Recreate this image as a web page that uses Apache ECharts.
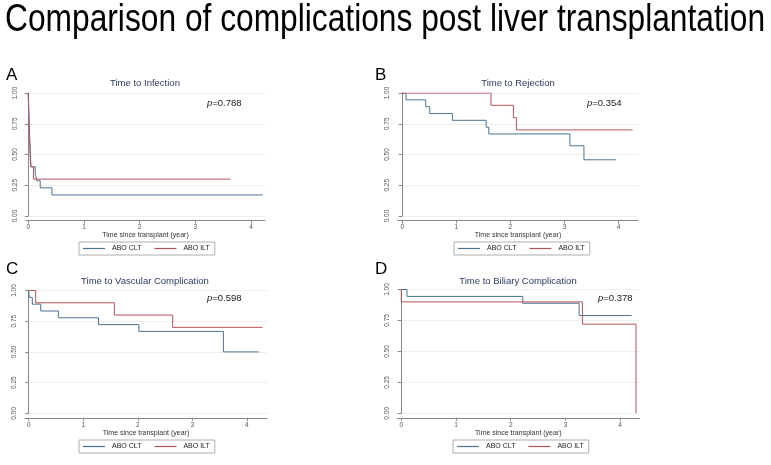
<!DOCTYPE html>
<html><head><meta charset="utf-8">
<script src="https://cdn.jsdelivr.net/npm/echarts@6/dist/echarts.min.js"></script>
<style>html,body{margin:0;padding:0;background:#fff}#c{width:771px;height:465px}</style>
</head><body><div id="c"></div>
<script>
const mainTitle = 'Comparison of complications post liver transplantation';
const panelLetters = ['A', 'B', 'C', 'D'];
const panelTitles = ['Time to Infection', 'Time to Rejection', 'Time to Vascular Complication', 'Time to Biliary Complication'];
const pValues = ['0.788', '0.354', '0.598', '0.378'];
const seriesNames = ['ABO CLT', 'ABO ILT'];
const xAxisTitle = 'Time since transplant (year)';
const xTickValues = [0, 1, 2, 3, 4];
const yTickValues = [0, 0.25, 0.5, 0.75, 1];

// A: infection
const infectionCltTime = [0, 0.004, 0.008, 0.012, 0.016, 0.02, 0.025, 0.03, 0.036, 0.042, 0.05, 0.126, 0.155, 0.215, 0.425, 4.21];
const infectionCltSurv = [1.0, 0.94, 0.88, 0.82, 0.76, 0.71, 0.65, 0.59, 0.53, 0.47, 0.40, 0.343, 0.286, 0.229, 0.171, 0.171];
const infectionIltTime = [0, 0.006, 0.012, 0.018, 0.026, 0.034, 0.044, 0.096, 3.63];
const infectionIltSurv = [1.0, 0.9, 0.8, 0.7, 0.6, 0.5, 0.4, 0.3, 0.3];
// B: rejection
const rejectionCltTime = [0, 0.068, 0.433, 0.507, 0.926, 1.55, 1.60, 3.10, 3.36, 3.95];
const rejectionCltSurv = [1.0, 0.944, 0.889, 0.833, 0.778, 0.722, 0.667, 0.571, 0.457, 0.457];
const rejectionIltTime = [0, 1.64, 2.055, 2.11, 4.26];
const rejectionIltSurv = [1.0, 0.9, 0.8, 0.7, 0.7];
// C: vascular
const vascularCltTime = [0, 0.012, 0.066, 0.22, 0.544, 1.28, 2.02, 3.57, 4.22];
const vascularCltSurv = [1.0, 0.944, 0.889, 0.833, 0.778, 0.722, 0.667, 0.5, 0.5];
const vascularIltTime = [0, 0.128, 1.57, 2.64, 4.29];
const vascularIltSurv = [1.0, 0.9, 0.8, 0.7, 0.7];
// D: biliary
const biliaryCltTime = [0, 0.104, 2.22, 3.25, 4.21];
const biliaryCltSurv = [1.0, 0.944, 0.889, 0.790, 0.790];
const biliaryIltTime = [0, 0, 3.31, 4.29];
const biliaryIltSurv = [1.0, 0.9, 0.72, 0.0];

const panelData = [
  [[infectionCltTime, infectionCltSurv], [infectionIltTime, infectionIltSurv]],
  [[rejectionCltTime, rejectionCltSurv], [rejectionIltTime, rejectionIltSurv]],
  [[vascularCltTime, vascularCltSurv], [vascularIltTime, vascularIltSurv]],
  [[biliaryCltTime, biliaryCltSurv], [biliaryIltTime, biliaryIltSurv]]
];

const layouts = [
  {grid: {left: 26, top: 93, width: 239, height: 123}, xMin: -0.04, xMax: 4.25, letter: [6, 75], title: [145, 83], p: [207, 103], legend: [79, 242]},
  {grid: {left: 398, top: 93, width: 240, height: 123}, xMin: -0.08, xMax: 4.36, letter: [375, 75], title: [518, 83], p: [587, 103], legend: [454, 242]},
  {grid: {left: 25, top: 290.5, width: 242, height: 122.8}, xMin: -0.068, xMax: 4.37, letter: [6, 269], title: [145, 281], p: [207, 298], legend: [79, 440]},
  {grid: {left: 397.3, top: 289.5, width: 242, height: 123.8}, xMin: -0.073, xMax: 4.35, letter: [375, 269], title: [518, 281], p: [598, 298], legend: [453, 440]}
];

const colors = ['#4b7394', '#b5525c'];
const FONT = '"Liberation Sans", Arial, sans-serif';
const axisColor = '#888';

const grids = [], xAxes = [], yAxes = [], series = [], legends = [], graphics = [];

graphics.push({
  type: 'text', x: 5, y: 21, scaleX: 0.835,
  style: {x: 0, y: 0, text: mainTitle, font: '38px ' + FONT, fill: '#000', textVerticalAlign: 'middle'}
});

layouts.forEach((L, i) => {
  grids.push(Object.assign({containLabel: false}, L.grid));
  xAxes.push({
    type: 'value', gridIndex: i, min: L.xMin, max: L.xMax, offset: 4.5,
    name: xAxisTitle, nameLocation: 'middle', nameGap: 10.5,
    nameTextStyle: {fontFamily: FONT, fontSize: 7, color: '#333'},
    axisLine: {show: true, onZero: false, lineStyle: {color: axisColor, width: 1}},
    axisTick: {show: true, length: 3, customValues: xTickValues, lineStyle: {color: axisColor}},
    axisLabel: {customValues: xTickValues, margin: 3.5, fontFamily: FONT, fontSize: 6.5, color: '#555'},
    splitLine: {show: false}
  });
  yAxes.push({
    type: 'value', gridIndex: i, min: 0, max: 1, interval: 0.25,
    axisLine: {show: true, lineStyle: {color: axisColor, width: 1}},
    axisTick: {show: true, length: 3.5, lineStyle: {color: axisColor}},
    axisLabel: {rotate: 90, margin: 7, fontFamily: FONT, fontSize: 6.5, color: '#555', formatter: v => v.toFixed(2)},
    splitLine: {show: true, lineStyle: {color: '#efefef', width: 1}}
  });
  panelData[i].forEach((pair, k) => {
    const [t, s] = pair;
    series.push({
      type: 'line', name: seriesNames[k], xAxisIndex: i, yAxisIndex: i,
      step: 'end', symbol: 'none', animation: false,
      data: t.map((x, j) => [x, s[j]]),
      lineStyle: {color: colors[k], width: 1},
      itemStyle: {color: colors[k]}
    });
  });
  legends.push({
    left: L.legend[0], top: L.legend[1],
    data: seriesNames.map((n, k) => ({name: n, icon: 'rect', itemStyle: {color: colors[k], borderWidth: 0}})),
    orient: 'horizontal',
    itemWidth: 22, itemHeight: 1.2, itemGap: 13, padding: [3, 5, 3, 4],
    borderColor: '#9a9a9a', borderWidth: 0.8, selectedMode: false,
    textStyle: {fontFamily: FONT, fontSize: 7, color: '#222', padding: [0, 0, 0, 2]}
  });
  graphics.push({
    type: 'text', x: L.letter[0], y: L.letter[1],
    style: {text: panelLetters[i], font: '17px ' + FONT, fill: '#000', textVerticalAlign: 'middle'}
  });
  graphics.push({
    type: 'text', x: L.title[0], y: L.title[1],
    style: {text: panelTitles[i], font: '9.5px ' + FONT, fill: '#2c3a66', textAlign: 'center', textVerticalAlign: 'middle'}
  });
  graphics.push({
    type: 'text', x: L.p[0], y: L.p[1],
    style: {
      text: '{i|p}{n|=' + pValues[i] + '}', textVerticalAlign: 'middle',
      rich: {
        i: {fontFamily: FONT, fontSize: 9.5, fontStyle: 'italic', fill: '#222'},
        n: {fontFamily: FONT, fontSize: 9.5, fill: '#222'}
      }
    }
  });
});

const chart = echarts.init(document.getElementById('c'), null, {renderer: 'canvas'});
chart.setOption({
  animation: false,
  backgroundColor: '#fff',
  grid: grids, xAxis: xAxes, yAxis: yAxes, series: series, legend: legends,
  graphic: graphics
});
</script></body></html>
